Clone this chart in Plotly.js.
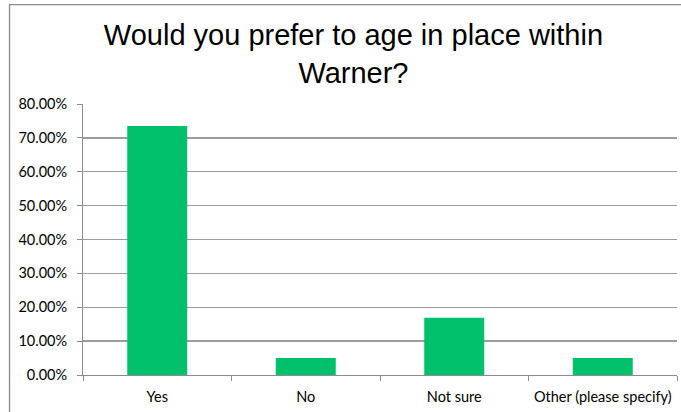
<!DOCTYPE html>
<html>
<head>
<meta charset="utf-8">
<script src="https://cdn.plot.ly/plotly-3.0.1.min.js"></script>
<style>html,body{margin:0;padding:0;background:#fff;}#chart{width:681px;height:412px;}</style>
</head>
<body>
<div id="chart"></div>
<script>
const categories = ["Yes", "No", "Not sure", "Other (please specify)"];
const shares = [0.735, 0.05, 0.169, 0.05];
const yTickValues = [0, 0.1, 0.2, 0.3, 0.4, 0.5, 0.6, 0.7, 0.8];
const titleText = "Would you prefer to age in place within<br>Warner?";

const trace = {
  type: "bar",
  x: categories,
  y: shares,
  marker: {color: "#00C06C", line: {width: 0}},
  hoverinfo: "skip"
};

const layout = {
  width: 681,
  height: 412,
  margin: {l: 83, r: 4, t: 104, b: 36.5, pad: 0},
  paper_bgcolor: "#ffffff",
  plot_bgcolor: "#ffffff",
  showlegend: false,
  bargap: 0.596,
  title: {
    text: titleText,
    font: {family: "Liberation Sans, Arial, sans-serif", size: 29, color: "#000"},
    xref: "container", x: 0.519, xanchor: "center",
    yref: "container", y: 0.89, yanchor: "top"
  },
  font: {family: "Lato, Calibri, sans-serif", size: 14.5, color: "#000"},
  xaxis: {
    type: "category",
    showline: true, linecolor: "#8C8C8C", linewidth: 1,
    ticks: "outside", tickson: "boundaries", ticklen: 5, tickcolor: "#8C8C8C",
    ticklabelstandoff: 9,
    showgrid: false, zeroline: false,
    tickfont: {family: "Lato, Calibri, sans-serif", size: 14.5, color: "#000"},
    fixedrange: true
  },
  yaxis: {
    range: [0, 0.8],
    tickvals: yTickValues,
    tickformat: ".2%",
    showline: true, linecolor: "#8C8C8C", linewidth: 1,
    ticks: "outside", ticklen: 5, tickcolor: "#8C8C8C",
    ticklabelstandoff: 7,
    showgrid: true, gridcolor: "#9C9C9C", gridwidth: 1.4,
    zeroline: false,
    tickfont: {family: "Lato, Calibri, sans-serif", size: 14.5, color: "#000"},
    fixedrange: true
  },
  shapes: [{
    type: "rect", xref: "paper", yref: "paper",
    x0: -0.1237, x1: 1.05, y0: -0.2, y1: 1.3665,
    line: {color: "#8A8A8A", width: 1.3},
    fillcolor: "rgba(0,0,0,0)", layer: "below"
  }]
};

Plotly.newPlot("chart", [trace], layout, {displayModeBar: false, staticPlot: true});
</script>
</body>
</html>
